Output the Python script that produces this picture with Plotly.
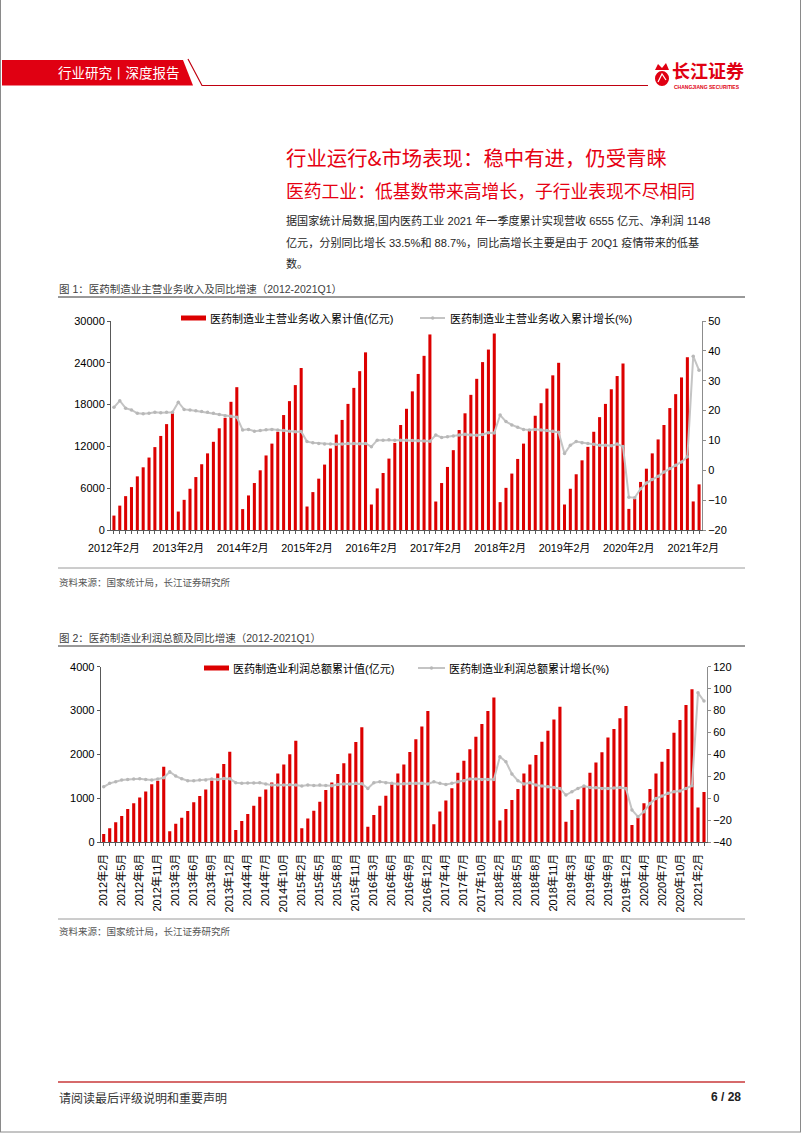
import plotly.graph_objects as go

W, H = 802, 1133

# ---------------- data ----------------
years = [2012, 2013, 2014, 2015, 2016, 2017, 2018, 2019, 2020]
months = [2, 3, 4, 5, 6, 7, 8, 9, 10, 11, 12]
categories = [f"{y}年{m}月" for y in years for m in months] + ["2021年2月", "2021年3月"]

# 医药制造业主营业务收入累计值(亿元)
revenue = [
    2070, 3500, 4860, 6160, 7700, 9000, 10400, 11900, 13500, 15200, 16750,
    2650, 4330, 5920, 7600, 9440, 11000, 12660, 14600, 16100, 18400, 20500,
    3000, 4960, 6740, 8570, 10700, 12400, 14100, 16500, 18500, 20800, 23250,
    3370, 5440, 7370, 9390, 11700, 13700, 15800, 18100, 20400, 22800, 25500,
    3660, 5970, 8180, 10250, 12500, 15070, 17400, 19900, 22400, 25000, 28070,
    4090, 6740, 9050, 11460, 14350, 16750, 19400, 21700, 24100, 25900, 28200,
    4000, 6050, 8100, 10200, 12400, 14500, 16400, 18200, 20300, 22200, 24000,
    3660, 5920, 8000, 10000, 11940, 14100, 16200, 18100, 20200, 22100, 23900,
    3030, 4480, 6900, 8800, 11000, 13000, 15070, 17500, 19500, 21900, 24800,
    4100, 6550,
]
# 医药制造业主营业务收入累计增长(%)
revenue_growth = [
    21.1, 23.3, 20.8, 20.2, 19.1, 18.9, 19.1, 19.4, 19.3, 19.4, 19.4,
    22.8, 20.4, 20.2, 19.9, 19.7, 19.4, 19.1, 18.7, 18.3, 18.1, 17.8,
    13.5, 13.7, 13.1, 13.3, 13.6, 13.7, 13.5, 13.3, 13.1, 12.9, 13.0,
    9.6, 9.2, 9.0, 8.8, 8.8, 8.7, 8.8, 9.0, 9.0, 8.9, 9.0,
    7.9, 10.1, 10.1, 10.2, 10.1, 10.1, 10.1, 10.0, 9.9, 9.8, 9.7,
    11.8, 11.0, 11.2, 11.5, 11.8, 12.1, 11.8, 11.7, 12.0, 12.6, 12.5,
    18.5, 16.3, 15.2, 14.4, 13.7, 13.5, 13.7, 13.5, 13.3, 13.1, 12.7,
    5.6, 8.4, 9.6, 9.2, 9.0, 8.7, 8.4, 8.4, 8.2, 8.8, 8.0,
    -9.0, -9.2, -6.2, -4.3, -3.1, -2.0, -0.6, 0.6, 1.7, 2.8, 4.5,
    38.2, 33.5,
]
# 医药制造业利润总额累计值(亿元)
profit = [
    190, 320, 455, 600, 760, 890, 1020, 1160, 1320, 1400, 1720,
    250, 425, 560, 715, 910, 1055, 1205, 1405, 1570, 1785, 2065,
    280, 485, 645, 830, 1040, 1205, 1360, 1570, 1775, 2005, 2315,
    320, 540, 720, 925, 1190, 1365, 1555, 1800, 2025, 2285, 2620,
    355, 620, 835, 1060, 1320, 1570, 1775, 2055, 2345, 2635, 2990,
    410, 700, 950, 1230, 1585, 1860, 2120, 2405, 2695, 2990, 3300,
    495, 760, 965, 1215, 1570, 1775, 1990, 2290, 2540, 2800, 3090,
    470, 735, 980, 1265, 1585, 1815, 2050, 2385, 2580, 2825, 3105,
    395, 560, 890, 1215, 1570, 1835, 2125, 2495, 2785, 3125, 3485,
    790, 1148,
]
# 医药制造业利润总额累计增长(%)
profit_growth = [
    10.6, 13.7, 15.2, 16.7, 17.3, 17.6, 17.9, 17.3, 16.7, 17.6, 18.8,
    24.3, 20.3, 17.9, 16.1, 16.1, 16.7, 16.7, 17.6, 17.3, 18.2, 17.9,
    14.3, 13.7, 14.0, 14.0, 14.3, 13.1, 12.1, 12.1, 12.1, 12.4, 12.1,
    11.2, 12.1, 11.8, 12.1, 11.8, 11.5, 12.7, 13.1, 13.1, 13.7, 13.4,
    9.1, 14.3, 15.2, 14.3, 13.7, 13.1, 13.4, 13.7, 13.7, 13.7, 13.1,
    15.2, 13.7, 12.7, 13.7, 15.2, 16.1, 17.6, 17.6, 17.3, 17.3, 17.3,
    38.0, 33.4, 22.2, 16.1, 13.1, 14.3, 12.1, 11.2, 10.6, 10.0, 9.1,
    3.0, 6.1, 9.1, 11.2, 10.0, 9.7, 9.1, 9.1, 9.4, 10.0, 9.1,
    -10.6, -16.7, -12.1, -4.6, 0.0, 2.1, 4.6, 6.1, 6.7, 9.1, 11.5,
    96.2, 88.7,
]

chart1_ticklabels = ["2012年2月", "2013年2月", "2014年2月", "2015年2月", "2016年2月",
                     "2017年2月", "2018年2月", "2019年2月", "2020年2月", "2021年2月"]
chart2_ticklabels = ["2012年2月", "2012年5月", "2012年8月", "2012年11月", "2013年3月",
                     "2013年6月", "2013年9月", "2013年12月", "2014年4月", "2014年7月",
                     "2014年10月", "2015年2月", "2015年5月", "2015年8月", "2015年11月",
                     "2016年3月", "2016年6月", "2016年9月", "2016年12月", "2017年4月",
                     "2017年7月", "2017年10月", "2018年2月", "2018年5月", "2018年8月",
                     "2018年11月", "2019年3月", "2019年6月", "2019年9月", "2019年12月",
                     "2020年4月", "2020年7月", "2020年10月", "2021年2月"]

# ---------------- styling ----------------
FONT = "Liberation Sans, Arial, Noto Sans CJK SC, sans-serif"
CJK = "Noto Sans CJK SC, Liberation Sans, sans-serif"
RED = "#dc0000"
GRAY = "#c4c4c4"
AXIS = "#595959"


def px(x):
    return x / W


def py(y):
    return 1 - y / H


fig = go.Figure()

fig.add_trace(go.Bar(x=categories, y=revenue, marker=dict(color=RED, line=dict(width=0)),
                     xaxis="x", yaxis="y", name="医药制造业主营业务收入累计值(亿元)"))
fig.add_trace(go.Scatter(x=categories, y=revenue_growth, mode="lines+markers",
                         line=dict(color=GRAY, width=2), marker=dict(size=3.5, color="#b8b8b8"),
                         xaxis="x", yaxis="y2", name="医药制造业主营业务收入累计增长(%)"))
fig.add_trace(go.Bar(x=categories, y=profit, marker=dict(color=RED, line=dict(width=0)),
                     xaxis="x2", yaxis="y3", name="医药制造业利润总额累计值(亿元)"))
fig.add_trace(go.Scatter(x=categories, y=profit_growth, mode="lines+markers",
                         line=dict(color=GRAY, width=2), marker=dict(size=3.5, color="#b8b8b8"),
                         xaxis="x2", yaxis="y4", name="医药制造业利润总额累计增长(%)"))

tick1 = [c if c in chart1_ticklabels else "" for c in categories]
tick2 = [c if c in chart2_ticklabels else "" for c in categories]

common_x = dict(type="category", range=[-0.5, len(categories) - 0.5], tickmode="array",
                tickvals=categories, ticks="outside", ticklen=3, tickcolor=AXIS,
                showline=True, linecolor=AXIS, linewidth=1, showgrid=False, zeroline=False,
                fixedrange=True, automargin=False)
common_y = dict(showline=True, linewidth=1, showgrid=False, zeroline=False,
                ticks="outside", ticklen=3, tickfont=dict(size=11, color="#000"),
                fixedrange=True, automargin=False, tickformat="d")

fig.update_layout(
    width=W, height=H, autosize=False,
    margin=dict(l=0, r=0, t=0, b=0, pad=0, autoexpand=False),
    paper_bgcolor="white", plot_bgcolor="rgba(0,0,0,0)",
    showlegend=False, bargap=0.48,
    font=dict(family=FONT, size=11, color="#000"),
    xaxis=dict(common_x, domain=[px(111), px(702)], anchor="y", ticktext=tick1,
               tickangle=0, tickfont=dict(size=10.8, color="#000"), ticklabelstandoff=5),
    yaxis=dict(common_y, domain=[py(530), py(321)], anchor="x", range=[0, 30000],
               tickmode="array", tickvals=[0, 6000, 12000, 18000, 24000, 30000],
               linecolor=AXIS, tickcolor=AXIS),
    yaxis2=dict(common_y, overlaying="y", side="right", anchor="x", range=[-20, 50],
                tickmode="array", tickvals=[-20, -10, 0, 10, 20, 30, 40, 50],
                linecolor="#8c8c8c", tickcolor="#8c8c8c"),
    xaxis2=dict(common_x, domain=[px(100.7), px(707)], anchor="y3", ticktext=tick2,
                tickangle=-90, tickfont=dict(size=11, color="#000"), ticklabelstandoff=3),
    yaxis3=dict(common_y, domain=[py(842.3), py(666.7)], anchor="x2", range=[0, 4000],
                tickmode="array", tickvals=[0, 1000, 2000, 3000, 4000],
                linecolor=AXIS, tickcolor=AXIS),
    yaxis4=dict(common_y, overlaying="y3", side="right", anchor="x2", range=[-40, 120],
                tickmode="array", tickvals=[-40, -20, 0, 20, 40, 60, 80, 100, 120],
                linecolor="#8c8c8c", tickcolor="#8c8c8c"),
)

shapes = []
annotations = []


def line(x0, y0, x1, y1, color, width=1):
    shapes.append(dict(type="line", xref="paper", yref="paper", x0=px(x0), y0=py(y0),
                       x1=px(x1), y1=py(y1), line=dict(color=color, width=width), layer="above"))


def rect(x0, y0, x1, y1, color):
    shapes.append(dict(type="rect", xref="paper", yref="paper", x0=px(x0), y0=py(y0),
                       x1=px(x1), y1=py(y1), fillcolor=color, line=dict(width=0), layer="above"))


def path(points, fill=None, color=None, width=1, closed=True):
    d = "M " + " L ".join(f"{px(a):.5f},{py(b):.5f}" for a, b in points)
    if closed:
        d += " Z"
    shapes.append(dict(type="path", xref="paper", yref="paper", path=d,
                       fillcolor=fill if fill else "rgba(0,0,0,0)",
                       line=dict(color=color if color else "rgba(0,0,0,0)", width=width),
                       layer="above"))


def text(x, y, s, size, color="#000", family=FONT, anchor="left", bold=False):
    if bold:
        s = f"<b>{s}</b>"
    annotations.append(dict(xref="paper", yref="paper", x=px(x), y=py(y), text=s,
                            showarrow=False, xanchor=anchor, yanchor="middle",
                            font=dict(size=size, color=color, family=family), borderpad=0))


# page border
line(0.5, 0, 0.5, 1132, "#8a8a8a", 1)
line(800.5, 0, 800.5, 1132, "#8a8a8a", 1)
line(0, 1132, 801, 1132, "#8a8a8a", 1)

# header band
path([(2, 60), (183, 60), (193, 85.5), (2, 85.5)], fill="#e00012")
path([(188, 59), (202, 85.5), (648, 85.5)], color="#c00010", width=1.2, closed=False)
text(119, 72.5, "行业研究丨深度报告", 13.5, "white", CJK, anchor="center")
# logo
shapes.append(dict(type="circle", xref="paper", yref="paper", x0=px(655), y0=py(86),
                   x1=px(669), y1=py(71), fillcolor="#e00012", line=dict(width=0), layer="above"))
path([(655, 70), (658, 64), (662, 68), (666, 63), (669, 70)], fill="#e00012")
path([(658, 82), (662, 74), (666, 80)], color="white", width=1.2, closed=False)
text(671, 70, "长江证券", 18, "#e00012", CJK, bold=True)
text(673, 86.5, "CHANGJIANG SECURITIES", 5, "#e00012", FONT, bold=True)

# headings
text(285, 157, "行业运行&市场表现：稳中有进，仍受青睐", 20.4, "#e60012", CJK)
text(285, 190, "医药工业：低基数带来高增长，子行业表现不尽相同", 17.8, "#e60012", CJK)
text(285, 220, "据国家统计局数据,国内医药工业 2021 年一季度累计实现营收 6555 亿元、净利润 1148", 11.1, "#262626", FONT)
text(285, 242, "亿元，分别同比增长 33.5%和 88.7%，同比高增长主要是由于 20Q1 疫情带来的低基", 11.1, "#262626", FONT)
text(285, 264, "数。", 11.1, "#262626", FONT)

# chart 1 frame texts
text(58, 289, "图 1：医药制造业主营业务收入及同比增速（2012-2021Q1）", 10.5, "#404040", FONT)
line(58, 297, 745, 297, "#333333", 1)
rect(181, 315.5, 206, 320.5, RED)
text(209, 318, "医药制造业主营业务收入累计值(亿元)", 11, "#000", FONT)
line(420, 318, 445, 318, GRAY, 2)
shapes.append(dict(type="circle", xref="paper", yref="paper", x0=px(431), y0=py(319.7),
                   x1=px(434.4), y1=py(316.3), fillcolor="#b8b8b8", line=dict(width=0), layer="above"))
text(449, 318, "医药制造业主营业务收入累计增长(%)", 11, "#000", FONT)
line(58, 568, 745, 568, "#9a9a9a", 1)
text(58, 582, "资料来源：国家统计局，长江证券研究所", 9.5, "#555555", FONT)

# chart 2 frame texts
text(58, 638, "图 2：医药制造业利润总额及同比增速（2012-2021Q1）", 10.5, "#404040", FONT)
line(58, 646, 745, 646, "#333333", 1)
rect(204, 665.5, 229, 670.5, RED)
text(232, 668, "医药制造业利润总额累计值(亿元)", 11, "#000", FONT)
line(418, 668, 445, 668, GRAY, 2)
shapes.append(dict(type="circle", xref="paper", yref="paper", x0=px(429.8), y0=py(669.7),
                   x1=px(433.2), y1=py(666.3), fillcolor="#b8b8b8", line=dict(width=0), layer="above"))
text(448, 668, "医药制造业利润总额累计增长(%)", 11, "#000", FONT)
line(58, 919, 745, 919, "#9a9a9a", 1)
text(58, 931, "资料来源：国家统计局，长江证券研究所", 9.5, "#555555", FONT)

# footer
line(58, 1082, 745, 1082, "#c8393a", 1.5)
text(58, 1097, "请阅读最后评级说明和重要声明", 12, "#333333", CJK)
text(742, 1097, "6 / 28", 12, "#222222", FONT, anchor="right", bold=True)

fig.update_layout(shapes=shapes, annotations=annotations)

fig.write_html("out.html", config={"displayModeBar": False, "responsive": False})
